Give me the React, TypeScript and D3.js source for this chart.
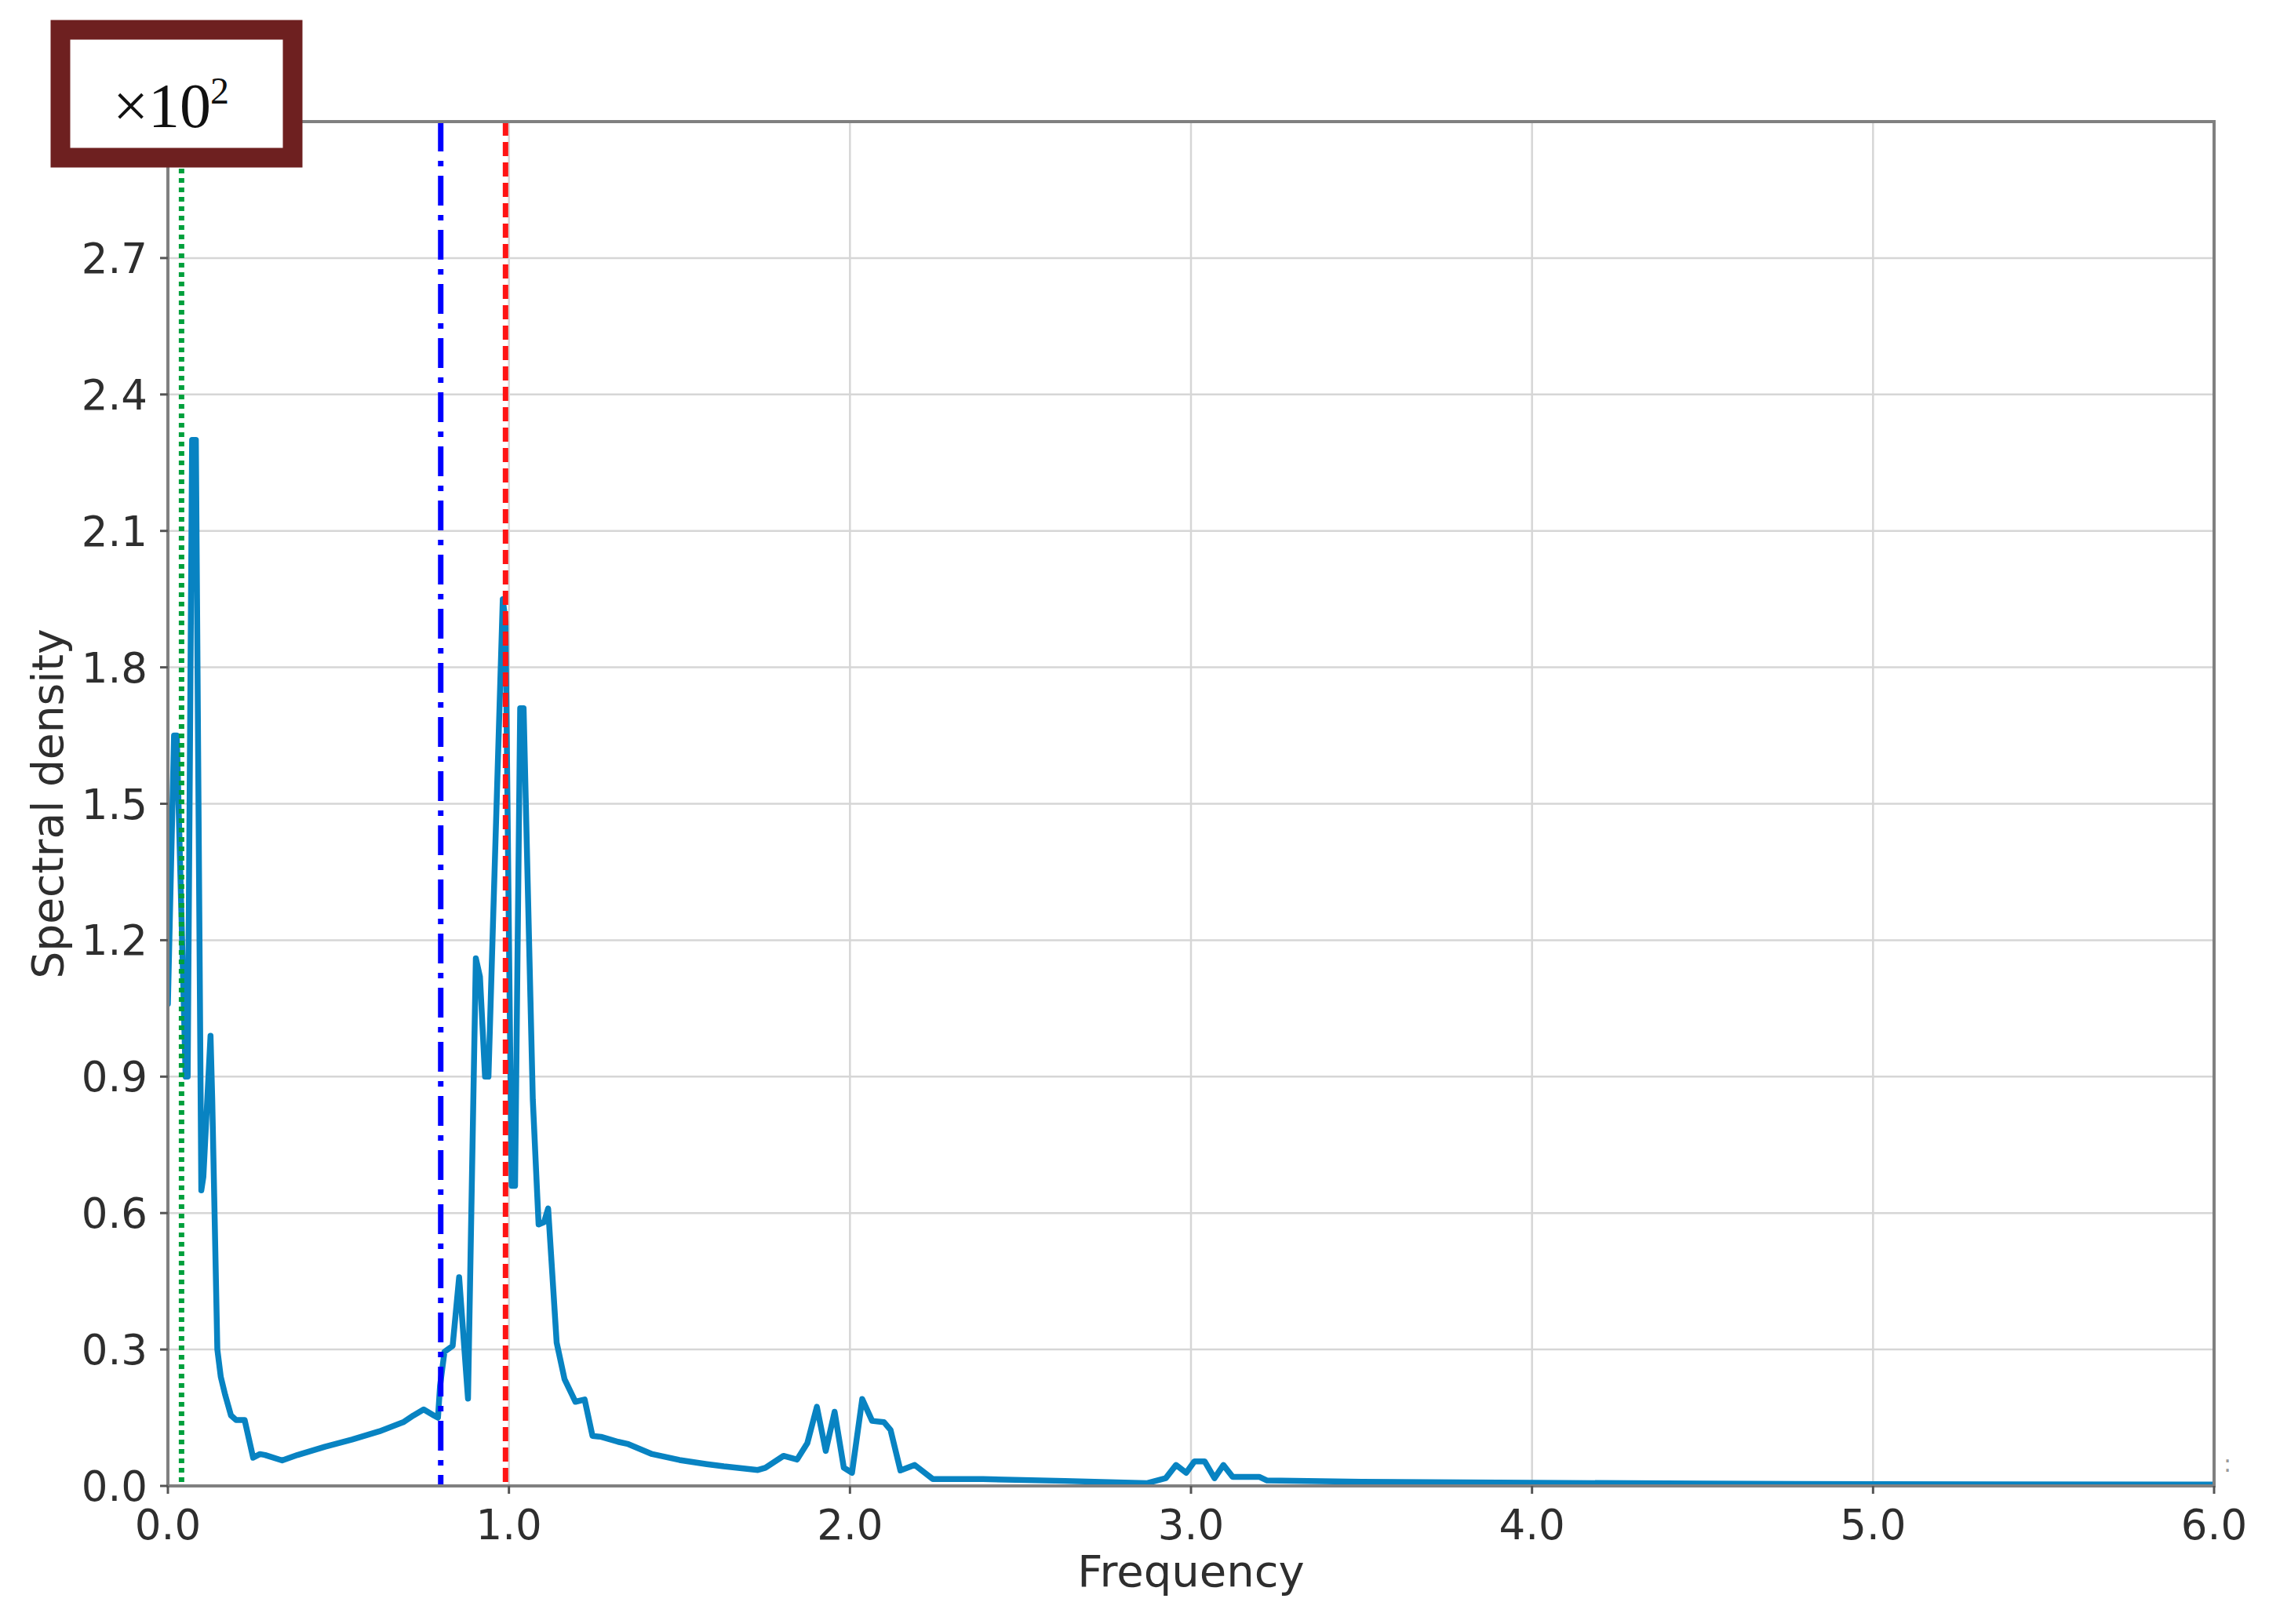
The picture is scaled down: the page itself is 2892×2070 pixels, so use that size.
import React from "react";
import * as d3 from "d3";

// Spectrum (values in units of 10^2)
const frequency = [
  0.0, 0.018, 0.026, 0.052, 0.058, 0.071, 0.082, 0.098, 0.104, 0.125, 0.13, 0.145, 0.155, 0.168,
  0.185, 0.2, 0.225, 0.25, 0.27, 0.285, 0.335, 0.38, 0.46, 0.54, 0.62, 0.69, 0.72, 0.75, 0.78,
  0.792, 0.798, 0.811, 0.835, 0.854, 0.88, 0.903, 0.915, 0.93, 0.94, 0.953, 0.982, 0.99, 1.008,
  1.018, 1.033, 1.043, 1.07, 1.087, 1.103, 1.115, 1.14, 1.163, 1.195, 1.222, 1.245, 1.27, 1.32,
  1.35, 1.42, 1.5, 1.58, 1.63, 1.73, 1.752, 1.805, 1.845, 1.875, 1.903, 1.929, 1.955, 1.982,
  2.006, 2.036, 2.065, 2.1, 2.119, 2.148, 2.19, 2.243, 2.39, 2.63, 2.87, 2.926, 2.956, 2.986,
  3.01, 3.04, 3.069, 3.095, 3.122, 3.2, 3.223, 3.5, 4.0, 4.5, 5.0, 6.0,
];
const density = [
  1.06, 1.65, 1.65, 0.9, 0.9, 2.3, 2.3, 0.65, 0.68, 0.99, 0.85, 0.3, 0.24, 0.2,
  0.155, 0.145, 0.145, 0.062, 0.07, 0.068, 0.056, 0.068, 0.086, 0.102, 0.12, 0.14, 0.155, 0.168, 0.155,
  0.15, 0.22, 0.295, 0.308, 0.459, 0.192, 1.16, 1.12, 0.9, 0.9, 1.23, 1.95, 1.9, 0.66,
  0.66, 1.71, 1.71, 0.85, 0.575, 0.58, 0.61, 0.315, 0.235, 0.185, 0.19, 0.11, 0.108, 0.097,
  0.092, 0.07, 0.057, 0.048, 0.043, 0.035, 0.04, 0.066, 0.058, 0.094, 0.174, 0.077, 0.163, 0.04,
  0.029, 0.191, 0.143, 0.14, 0.123, 0.034, 0.046, 0.015, 0.015, 0.011, 0.006, 0.017, 0.046, 0.029,
  0.054, 0.054, 0.017, 0.046, 0.02, 0.02, 0.012, 0.009, 0.007, 0.005, 0.004, 0.003,
];

const xTicks = [0, 1, 2, 3, 4, 5, 6];
const yTicks = [0, 0.3, 0.6, 0.9, 1.2, 1.5, 1.8, 2.1, 2.4, 2.7];
const markerGreen = 0.04;
const markerBlue = 0.8;
const markerRed = 0.99;
const xLabel = "Frequency";
const yLabel = "Spectral density";

const W = 2892;
const H = 2070;
const L = 214, R = 2822, T = 155, B = 1894;

export default function App() {
  const x = d3.scaleLinear().domain([0, 6]).range([L, R]);
  const y = d3.scaleLinear().domain([0, 3.0]).range([B, T]);
  const pts = frequency.map((f, i) => [f, density[i]] as [number, number]);
  const line = d3
    .line<[number, number]>()
    .x((d) => x(d[0]))
    .y((d) => y(d[1]));
  const fmt = d3.format(".1f");
  const tickFont = "DejaVu Sans, sans-serif";

  return (
    <svg
      width={W}
      height={H}
      style={{ position: "absolute", left: 0, top: 0, background: "#fff" }}
      xmlns="http://www.w3.org/2000/svg"
    >
      <rect x={0} y={0} width={W} height={H} fill="#fff" />
      <defs>
        <clipPath id="plotclip">
          <rect x={L} y={T} width={R - L} height={B - T} />
        </clipPath>
      </defs>
      {/* grid */}
      {xTicks.slice(1, -1).map((t) => (
        <line key={"gx" + t} x1={x(t)} x2={x(t)} y1={T} y2={B} stroke="#d6d6d6" strokeWidth={2.5} />
      ))}
      {yTicks.slice(1).map((t) => (
        <line key={"gy" + t} x1={L} x2={R} y1={y(t)} y2={y(t)} stroke="#d6d6d6" strokeWidth={2.5} />
      ))}
      {/* spectrum */}
      <g clipPath="url(#plotclip)">
        <path
          d={line(pts) || ""}
          fill="none"
          stroke="#0883c2"
          strokeWidth={7.5}
          strokeLinejoin="round"
          strokeLinecap="round"
        />
        {/* markers */}
        <line x1={x(markerGreen)} x2={x(markerGreen)} y1={T} y2={B} stroke="#00a03c" strokeWidth={7} strokeDasharray="6 6" />
        <line x1={x(markerBlue)} x2={x(markerBlue)} y1={T} y2={B} stroke="#0000ff" strokeWidth={7} strokeDasharray="38 12 7 12" />
        <line x1={x(markerRed)} x2={x(markerRed)} y1={T} y2={B} stroke="#ff1414" strokeWidth={7} strokeDasharray="18 8" />
      </g>
      {/* spines */}
      <rect x={L} y={T} width={R - L} height={B - T} fill="none" stroke="#808080" strokeWidth={4} />
      {/* ticks */}
      {xTicks.map((t) => (
        <g key={"tx" + t}>
          <line x1={x(t)} x2={x(t)} y1={B} y2={B + 10} stroke="#555" strokeWidth={3} />
          <text x={x(t)} y={B + 68} textAnchor="middle" fontFamily={tickFont} fontSize={53} fill="#2e2e2e">
            {fmt(t)}
          </text>
        </g>
      ))}
      {yTicks.map((t) => (
        <g key={"ty" + t}>
          <line x1={L - 10} x2={L} y1={y(t)} y2={y(t)} stroke="#555" strokeWidth={3} />
          <text x={L - 26} y={y(t)} dy="0.36em" textAnchor="end" fontFamily={tickFont} fontSize={53} fill="#2e2e2e">
            {fmt(t)}
          </text>
        </g>
      ))}
      {/* axis labels */}
      <text x={(L + R) / 2} y={2022} textAnchor="middle" fontFamily={tickFont} fontSize={56} fill="#2e2e2e">
        {xLabel}
      </text>
      <text
        transform={`translate(80, ${(T + B) / 2}) rotate(-90)`}
        textAnchor="middle"
        fontFamily={tickFont}
        fontSize={55}
        fill="#2e2e2e"
      >
        {yLabel}
      </text>
      <text x={2834} y={1876} fontFamily={tickFont} fontSize={30} fill="#999">:</text>
      {/* scale box */}
      <rect x={77} y={38} width={296} height={163} fill="#fff" stroke="#6e2020" strokeWidth={25} />
      <text x={144} y={162} fontFamily="Liberation Serif, Times New Roman, serif" fontSize={80} fill="#111">
        ×10
      </text>
      <text x={268} y={132} fontFamily="Liberation Serif, Times New Roman, serif" fontSize={48} fill="#111">
        2
      </text>
    </svg>
  );
}
